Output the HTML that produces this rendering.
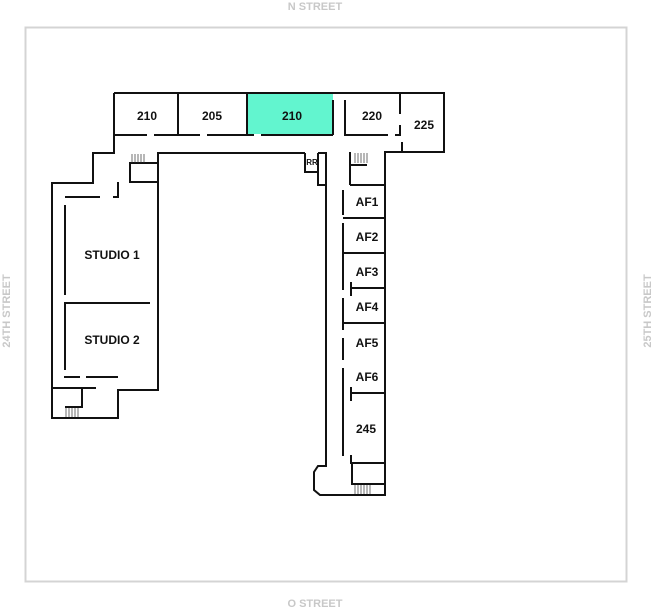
<!DOCTYPE html>
<html><head><meta charset="utf-8"><style>
html,body{margin:0;padding:0;background:#fff;}
svg{display:block;}
text{font-family:"Liberation Sans",sans-serif;font-weight:bold;}
</style></head><body>
<svg width="653" height="608" viewBox="0 0 653 608">
<rect x="25.5" y="27.5" width="601" height="554" fill="none" stroke="#d4d4d4" stroke-width="2"/>
<g fill="#c8c8c8" font-size="11" text-anchor="middle">
<text x="315" y="10">N STREET</text>
<text x="315" y="607">O STREET</text>
<text transform="translate(10,311) rotate(-90)">24TH STREET</text>
<text transform="translate(651,311) rotate(-90)">25TH STREET</text>
</g>
<rect x="247" y="94" width="86" height="40" fill="#62f5cf"/>
<g fill="none" stroke="#111" stroke-width="2">
<path d="M114 93 H444 V152 H402"/>
<path d="M114 93 V153 H93 V183 H52 V418 H118 V390 H158 V153 H305"/>
<line x1="178" y1="93" x2="178" y2="135"/>
<line x1="247" y1="93" x2="247" y2="135"/>
<line x1="333" y1="100" x2="333" y2="135"/>
<path d="M114 135 H147 M154 135 H200 M207 135 H254 M261 135 H333"/>
<path d="M345 100 V135 H388 M395 135 H400 V125"/>
<line x1="400" y1="93" x2="400" y2="114"/>
<line x1="402" y1="142" x2="402" y2="152"/>
<path d="M402 152 H385 V495 H320 L314 490 V472 L318 466 H326 V185 H318 V153"/>
<path d="M318 153 H326 V185"/>
<path d="M305 153 V172 H318"/>
<path d="M350 152 V185 M350 165 H367 M350 185 H385"/>
<path d="M343 190 V215 M343 223 V290"/>
<path d="M343 298 V330 M343 338 V360"/>
<path d="M343 368 V456"/>
<line x1="343" y1="218" x2="385" y2="218"/>
<line x1="343" y1="253" x2="385" y2="253"/>
<line x1="350" y1="288" x2="385" y2="288"/>
<line x1="351" y1="282" x2="351" y2="296"/>
<line x1="343" y1="323" x2="385" y2="323"/>
<line x1="350" y1="393" x2="385" y2="393"/>
<line x1="351" y1="387" x2="351" y2="401"/>
<path d="M351 455 V463 H385 M352 463 V484 H385"/>
<path d="M158 163 H130 V182 H158 M118 182 V197 H113 M65 197 H100"/>
<path d="M65 205 V295 M65 302 V370 M65 376 V377 H80 M86 377 H118"/>
<line x1="65" y1="303" x2="150" y2="303"/>
<path d="M52 388 H96 M82 388 V407 H65"/>
</g>
<g stroke="#333" stroke-width="0.7">
<path d="M132 154v9M135 154v9M138 154v9M141 154v9M144 154v9"/>
<path d="M355 153v10M358 153v10M361 153v10M364 153v10M367 153v10"/>
<path d="M355 485v9M358 485v9M361 485v9M364 485v9M367 485v9M370 485v9"/>
<path d="M66 408v9M69 408v9M72 408v9M75 408v9M78 408v9"/>
</g>
<g fill="#111" font-size="12" text-anchor="middle">
<text x="147" y="120">210</text>
<text x="212" y="120">205</text>
<text x="292" y="120">210</text>
<text x="372" y="120">220</text>
<text x="424" y="129">225</text>
<text x="112" y="259">STUDIO 1</text>
<text x="112" y="344">STUDIO 2</text>
<text x="367" y="206">AF1</text>
<text x="367" y="241">AF2</text>
<text x="367" y="276">AF3</text>
<text x="367" y="311">AF4</text>
<text x="367" y="347">AF5</text>
<text x="367" y="381">AF6</text>
<text x="366" y="433">245</text>
<text x="312" y="165" font-size="8">RR</text>
</g>
</svg>
</body></html>
